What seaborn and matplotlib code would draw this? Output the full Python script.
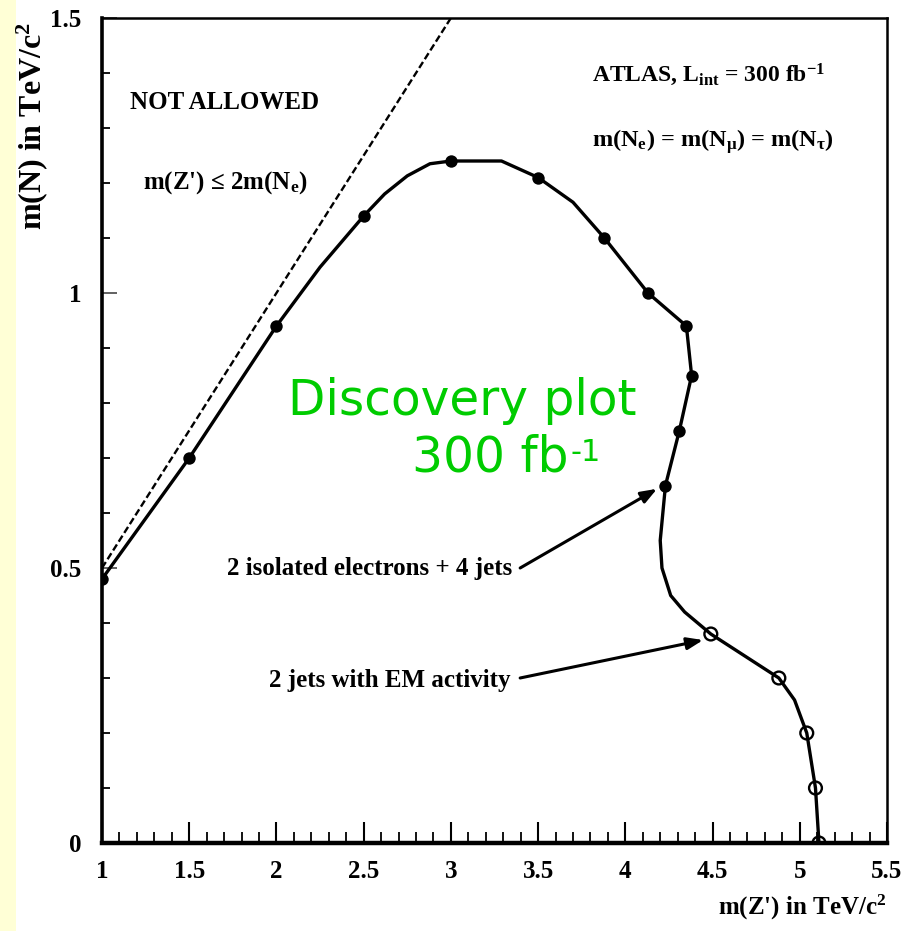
import matplotlib
matplotlib.use("Agg")
import matplotlib.pyplot as plt
from matplotlib.patches import Rectangle
from matplotlib.ticker import MultipleLocator, FixedLocator, FixedFormatter
import seaborn as sns
import pandas as pd

# Discovery contour in the m(Z') - m(N) plane (TeV/c^2)
curve_mz = [1.00, 1.50, 2.00, 2.25, 2.50, 2.62, 2.75, 2.88, 3.00, 3.29, 3.50, 3.70,
            3.88, 4.13, 4.35, 4.38, 4.31, 4.23, 4.20, 4.21, 4.26, 4.34, 4.49, 4.88,
            4.97, 5.04, 5.09, 5.11]
curve_mn = [0.48, 0.70, 0.94, 1.047, 1.14, 1.18, 1.213, 1.235, 1.24, 1.24, 1.21, 1.165,
            1.10, 1.00, 0.94, 0.85, 0.75, 0.65, 0.55, 0.50, 0.45, 0.42, 0.38, 0.30,
            0.26, 0.20, 0.10, 0.00]

# Simulated points: 2 isolated electrons + 4 jets
iso_mz = [1.00, 1.50, 2.00, 2.50, 3.00, 3.50, 3.88, 4.13, 4.35, 4.38, 4.31, 4.23]
iso_mn = [0.48, 0.70, 0.94, 1.14, 1.24, 1.21, 1.10, 1.00, 0.94, 0.85, 0.75, 0.65]

# Simulated points: 2 jets with EM activity
em_mz = [4.49, 4.88, 5.04, 5.09, 5.11]
em_mn = [0.38, 0.30, 0.20, 0.10, 0.00]

# Kinematic boundary m(Z') = 2 m(N)
limit_mz = [1.0, 3.5]
limit_mn = [0.5, 1.75]

x_ticks = [1, 1.5, 2, 2.5, 3, 3.5, 4, 4.5, 5, 5.5]
x_ticklabels = ["1", "1.5", "2", "2.5", "3", "3.5", "4", "4.5", "5", "5.5"]
y_ticks = [0, 0.5, 1, 1.5]
y_ticklabels = ["0", "0.5", "1", "1.5"]

sns.set_theme(style="white")
plt.rcParams["font.family"] = ["Liberation Serif", "DejaVu Serif"]
plt.rcParams["font.weight"] = "bold"
plt.rcParams["mathtext.fontset"] = "custom"
plt.rcParams["mathtext.rm"] = "Liberation Serif:bold"
plt.rcParams["mathtext.it"] = "Liberation Serif:bold"
plt.rcParams["mathtext.bf"] = "Liberation Serif:bold"

W, H = 912, 931
fig = plt.figure(figsize=(W / 100, H / 100), dpi=100)
fig.patch.set_facecolor("white")
fig.patches.append(Rectangle((0, 0), 16 / W, 1, transform=fig.transFigure,
                             facecolor="#FFFFD6", edgecolor="none", zorder=0))

ax = fig.add_axes([102 / W, 88 / H, 785 / W, 825 / H])
ax.set_facecolor("white")

curve = pd.DataFrame({"mz": curve_mz, "mn": curve_mn})
sns.lineplot(data=curve, x="mz", y="mn", sort=False, estimator=None,
             color="black", linewidth=2.4, ax=ax, zorder=3)
ax.lines[-1].set_solid_joinstyle("round")

limit = pd.DataFrame({"mz": limit_mz, "mn": limit_mn})
sns.lineplot(data=limit, x="mz", y="mn", sort=False, estimator=None,
             color="black", linewidth=1.7, ax=ax, zorder=2)
ax.lines[-1].set_dashes([3, 1.4])

iso = pd.DataFrame({"mz": iso_mz, "mn": iso_mn})
sns.scatterplot(data=iso, x="mz", y="mn", color="black", s=80, marker="o",
                edgecolor="black", linewidth=0, ax=ax, zorder=4)
em = pd.DataFrame({"mz": em_mz, "mn": em_mn})
sns.scatterplot(data=em, x="mz", y="mn", s=85, marker="o", facecolor="none",
                edgecolor="black", linewidth=1.7, ax=ax, zorder=4)

ax.set_xlim(1, 5.5)
ax.set_ylim(0, 1.5)

# ROOT-like frame and inward ticks
for side, lw in (("left", 2.6), ("bottom", 3.2), ("right", 1.8), ("top", 1.8)):
    ax.spines[side].set_visible(True)
    ax.spines[side].set_color("black")
    ax.spines[side].set_linewidth(lw)

ax.xaxis.set_major_locator(FixedLocator(x_ticks))
ax.xaxis.set_major_formatter(FixedFormatter(x_ticklabels))
ax.xaxis.set_minor_locator(MultipleLocator(0.1))
ax.yaxis.set_major_locator(FixedLocator(y_ticks))
ax.yaxis.set_major_formatter(FixedFormatter(y_ticklabels))
ax.yaxis.set_minor_locator(MultipleLocator(0.1))
ax.tick_params(axis="x", which="major", direction="in", length=15, width=1.5,
               color="black", labelsize=18, pad=12, bottom=True, top=False)
ax.tick_params(axis="x", which="minor", direction="in", length=8, width=1.3,
               color="black", bottom=True, top=False)
ax.tick_params(axis="y", which="major", direction="in", length=11, width=1.3,
               color="#555555", labelsize=18, pad=15, left=True, right=False)
ax.tick_params(axis="y", which="minor", direction="in", length=6, width=1.3,
               color="black", left=True, right=False)
for lab in ax.get_xticklabels() + ax.get_yticklabels():
    lab.set_fontweight("bold")
    lab.set_color("black")

ax.set_ylabel("")
ax.set_xlabel("m(Z') in TeV/c$^{2}$", fontsize=18, fontweight="bold",
              color="black", loc="right")
ax.xaxis.set_label_coords(1.0, -0.06)
fig.text(32 / W, 1 - 22 / H, "m(N) in TeV/c$^{2}$", fontsize=23,
         fontweight="bold", color="black", rotation=90, ha="center", va="top")

txt = dict(color="black", fontweight="bold")
ax.text(1.16, 1.347, "NOT ALLOWED", fontsize=18, ha="left", va="center", **txt)
ax.text(1.235, 1.20, "m(Z') ≤ 2m(N$_{\\rm e}$)", fontsize=18, ha="left",
        va="center", **txt)
ax.text(3.81, 1.396, "ATLAS, L$_{\\rm int}$ = 300 fb$^{-1}$", fontsize=17,
        ha="left", va="center", **txt)
ax.text(3.81, 1.275, "m(N$_{\\rm e}$) = m(N$_{\\rm μ}$) = m(N$_{\\rm τ}$)",
        fontsize=17.5, ha="left", va="center", **txt)

ax.text(3.351, 0.50, "2 isolated electrons + 4 jets", fontsize=18, ha="right",
        va="center", **txt)
ax.text(3.339, 0.296, "2 jets with EM activity", fontsize=18, ha="right",
        va="center", **txt)

arrow = dict(arrowstyle="-|>,head_length=0.8,head_width=0.3", color="black",
             lw=2.2, shrinkA=0, shrinkB=0)
ax.annotate("", xy=(4.182, 0.644), xytext=(3.397, 0.50), arrowprops=arrow,
            zorder=5)
ax.annotate("", xy=(4.446, 0.369), xytext=(3.397, 0.30), arrowprops=arrow,
            zorder=5)

green = dict(color="#00CC00", family=["DejaVu Sans"], fontweight="normal")
ax.text(2.066, 0.778, "Discovery plot", fontsize=35, ha="left", va="baseline",
        **green)
fb = ax.text(2.778, 0.675, "300 fb", fontsize=35, ha="left", va="baseline",
             **green)
ax.annotate("-1", xy=(1.0, 1.0), xycoords=fb, xytext=(1, -3),
            textcoords="offset points", ha="left", va="top", fontsize=22,
            **green)

fig.savefig("out.png", dpi=100, facecolor="white")
